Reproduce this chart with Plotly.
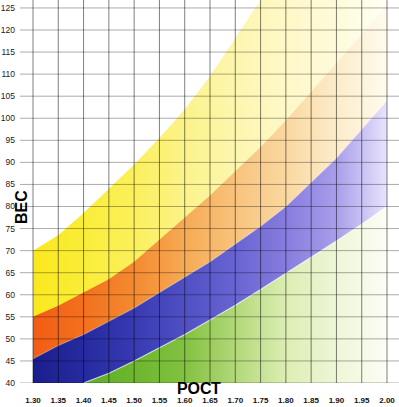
import plotly.graph_objects as go

# ---- data ----
HEIGHTS = [1.30, 1.35, 1.40, 1.45, 1.50, 1.55, 1.60, 1.65, 1.70, 1.75, 1.80, 1.85, 1.90, 1.95, 2.00]
HEIGHT_LABELS = ["1.30", "1.35", "1.40", "1.45", "1.50", "1.55", "1.60", "1.65", "1.70",
                 "1.75", "1.80", "1.85", "1.90", "1.95", "2.00"]
WEIGHT_TICKS = [40, 45, 50, 55, 60, 65, 70, 75, 80, 85, 90, 95, 100, 105, 110, 115, 120, 125]

GREEN_TOP = [None, None, 40, 42.2, 45, 48, 51, 54.3, 57.6, 61.2, 64.8, 68.4, 72.2, 76, 80]
BLUE_TOP = [45.5, 48.5, 51, 54, 57, 60.5, 64, 67.5, 71.5, 75.5, 80, 85.5, 91, 97.5, 104]
ORANGE_TOP = [55, 57.5, 60.5, 63.5, 67.5, 72.5, 77.5, 82.5, 88, 93.5, 99.5, 106, 112.5, 119, 126]
YELLOW_TOP = [70, 73.5, 78.5, 84, 89.5, 95.5, 102, 109.5, 118, 127, None, None, None, None, None]

# gradient colour stops (along height)
GRAD_STOPS = [1.30, 1.40, 1.50, 1.60, 1.70, 1.80, 1.90, 2.00]
GREEN_COLORS = ["rgb(90,170,40)", "rgb(95,175,40)", "rgb(108,182,46)", "rgb(130,193,64)",
                "rgb(178,216,120)", "rgb(220,238,180)", "rgb(238,246,215)", "rgb(252,253,245)"]
BLUE_COLORS = ["rgb(26,30,140)", "rgb(38,42,160)", "rgb(55,58,178)", "rgb(80,80,196)",
               "rgb(104,100,210)", "rgb(134,124,222)", "rgb(168,158,234)", "rgb(232,228,252)"]
ORANGE_COLORS = ["rgb(242,92,20)", "rgb(243,112,30)", "rgb(244,138,48)", "rgb(246,170,84)",
                 "rgb(248,195,125)", "rgb(250,216,160)", "rgb(252,236,202)", "rgb(255,251,238)"]
YELLOW_COLORS = ["rgb(250,232,30)", "rgb(250,237,55)", "rgb(251,240,92)", "rgb(252,243,138)",
                 "rgb(253,246,175)", "rgb(254,248,200)", "rgb(254,251,218)", "rgb(255,255,246)"]

X_MIN, X_MAX = 1.2743, 2.0237
Y_MIN, Y_MAX = 40, 126.8

LABEL_FONT = "Liberation Sans, Arial, sans-serif"


def colorscale(colors):
    span = GRAD_STOPS[-1] - GRAD_STOPS[0]
    return [[(s - GRAD_STOPS[0]) / span, c] for s, c in zip(GRAD_STOPS, colors)]


def band(tops, colors, cap_missing=False):
    xs, ys = [], []
    for h, v in zip(HEIGHTS, tops):
        if v is None:
            if not cap_missing:
                continue
            v = Y_MAX
        xs.append(h)
        ys.append(min(v, Y_MAX))
    poly_x = xs + xs[::-1]
    poly_y = ys + [Y_MIN] * len(xs)
    return go.Scatter(
        x=poly_x, y=poly_y, mode="lines", fill="toself",
        line=dict(width=0), hoverinfo="skip",
        fillgradient=dict(type="horizontal", colorscale=colorscale(colors),
                          start=GRAD_STOPS[0], stop=GRAD_STOPS[-1]),
    )


fig = go.Figure()
fig.add_trace(band(YELLOW_TOP, YELLOW_COLORS, cap_missing=True))
fig.add_trace(band(ORANGE_TOP, ORANGE_COLORS))
fig.add_trace(band(BLUE_TOP, BLUE_COLORS))
fig.add_trace(band(GREEN_TOP, GREEN_COLORS))

# light seams on band boundaries
for tops, alpha in ((BLUE_TOP, 0.35), (GREEN_TOP, 0.7)):
    bx = [h for h, v in zip(HEIGHTS, tops) if v is not None]
    by = [v for v in tops if v is not None]
    fig.add_trace(go.Scatter(x=bx, y=by, mode="lines", hoverinfo="skip",
                             line=dict(color=f"rgba(255,255,255,{alpha})", width=1.2)))

# grid drawn over the colours
vx, vy = [], []
for h in HEIGHTS:
    vx += [h, h, None]
    vy += [Y_MIN, Y_MAX, None]
hx, hy = [], []
for w in WEIGHT_TICKS:
    hx += [X_MIN, X_MAX, None]
    hy += [w, w, None]
fig.add_trace(go.Scatter(x=hx, y=hy, mode="lines", hoverinfo="skip",
                         line=dict(color="rgba(0,0,0,0.33)", width=1)))
fig.add_trace(go.Scatter(x=vx, y=vy, mode="lines", hoverinfo="skip",
                         line=dict(color="rgba(0,0,0,0.5)", width=1)))

fig.update_layout(
    width=399, height=407,
    margin=dict(l=20, r=0, t=0, b=24),
    paper_bgcolor="white", plot_bgcolor="white",
    showlegend=False,
    xaxis=dict(range=[X_MIN, X_MAX], tickvals=HEIGHTS, ticktext=HEIGHT_LABELS,
               showgrid=False, zeroline=False, showline=False, ticks="",
               ticklabelstandoff=11,
               tickfont=dict(family=LABEL_FONT, size=8, color="#111", weight="bold")),
    yaxis=dict(range=[Y_MIN, Y_MAX], tickvals=WEIGHT_TICKS,
               showgrid=False, zeroline=False, showline=False, ticks="",
               ticklabelstandoff=4,
               tickfont=dict(family=LABEL_FONT, size=8.5, color="#222")),
    annotations=[
        dict(text="ВЕС", xref="paper", yref="paper", x=0, y=0.4595, xshift=1,
             xanchor="center", yanchor="middle", textangle=-90, showarrow=False,
             font=dict(family=LABEL_FONT, size=16, color="black", weight="bold")),
        dict(text="РОСТ", xref="paper", yref="paper", x=0.4736, y=0, yshift=-5,
             xanchor="center", yanchor="middle", showarrow=False,
             font=dict(family=LABEL_FONT, size=16, color="black", weight="bold")),
    ],
)

fig.write_html("out.html", config={"displayModeBar": False},
               post_script="document.body.style.margin='0';")
